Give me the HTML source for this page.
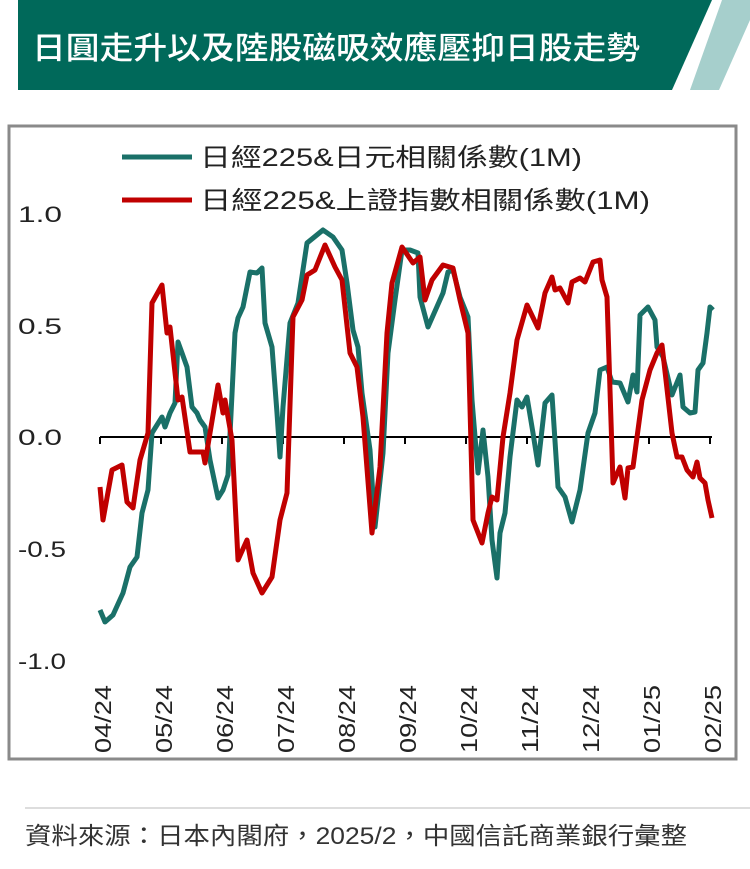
<!DOCTYPE html>
<html><head><meta charset="utf-8"><style>
body{margin:0;width:750px;height:869px;background:#fff;overflow:hidden;font-family:"Liberation Sans","Noto Sans CJK TC",sans-serif;}
</style></head><body>
<svg width="750" height="869" viewBox="0 0 750 869" xmlns="http://www.w3.org/2000/svg" style="position:absolute;left:0;top:0">
<polygon points="18,0 712,0 672,90 18,90" fill="#00695a"/>
<polygon points="722,0 750,0 750,20 719,90 690,90" fill="#a6cfcc"/>
<text x="32" y="59" font-size="31" fill="#fff" font-family="'Noto Sans CJK TC',sans-serif" font-weight="500" textLength="608" lengthAdjust="spacingAndGlyphs">日圓走升以及陸股磁吸效應壓抑日股走勢</text>
<rect x="9" y="126" width="727" height="633" fill="none" stroke="#8a8a8a" stroke-width="3"/>
<g font-family="'Liberation Sans','Noto Sans CJK TC',sans-serif" fill="#222">
<line x1="122" y1="157" x2="192" y2="157" stroke="#1a7068" stroke-width="5"/>
<line x1="122" y1="200" x2="192" y2="200" stroke="#c00000" stroke-width="5"/>
<text x="200" y="166" font-size="25" textLength="382" lengthAdjust="spacingAndGlyphs">日經225&amp;日元相關係數(1M)</text>
<text x="200" y="209" font-size="25" textLength="450" lengthAdjust="spacingAndGlyphs">日經225&amp;上證指數相關係數(1M)</text>
<text x="18" y="222" font-size="22" textLength="44" lengthAdjust="spacingAndGlyphs">1.0</text>
<text x="18" y="334" font-size="22" textLength="44" lengthAdjust="spacingAndGlyphs">0.5</text>
<text x="18" y="445" font-size="22" textLength="44" lengthAdjust="spacingAndGlyphs">0.0</text>
<text x="18" y="557" font-size="22" textLength="48" lengthAdjust="spacingAndGlyphs">-0.5</text>
<text x="18" y="669" font-size="22" textLength="48" lengthAdjust="spacingAndGlyphs">-1.0</text>
</g>
<g stroke="#000" stroke-width="2">
<line x1="100" y1="437" x2="712" y2="437"/>
<line x1="100" y1="437" x2="100" y2="444"/><line x1="161" y1="437" x2="161" y2="444"/><line x1="222" y1="437" x2="222" y2="444"/><line x1="283" y1="437" x2="283" y2="444"/><line x1="344" y1="437" x2="344" y2="444"/><line x1="405" y1="437" x2="405" y2="444"/><line x1="466" y1="437" x2="466" y2="444"/><line x1="527" y1="437" x2="527" y2="444"/><line x1="588" y1="437" x2="588" y2="444"/><line x1="649" y1="437" x2="649" y2="444"/><line x1="710" y1="437" x2="710" y2="444"/>
</g>
<g font-size="23" fill="#222" font-family="'Liberation Sans',sans-serif">
<text transform="translate(111,753) rotate(-90)" textLength="68" lengthAdjust="spacingAndGlyphs">04/24</text>
<text transform="translate(172,753) rotate(-90)" textLength="68" lengthAdjust="spacingAndGlyphs">05/24</text>
<text transform="translate(233,753) rotate(-90)" textLength="68" lengthAdjust="spacingAndGlyphs">06/24</text>
<text transform="translate(294,753) rotate(-90)" textLength="68" lengthAdjust="spacingAndGlyphs">07/24</text>
<text transform="translate(355,753) rotate(-90)" textLength="68" lengthAdjust="spacingAndGlyphs">08/24</text>
<text transform="translate(416,753) rotate(-90)" textLength="68" lengthAdjust="spacingAndGlyphs">09/24</text>
<text transform="translate(477,753) rotate(-90)" textLength="68" lengthAdjust="spacingAndGlyphs">10/24</text>
<text transform="translate(538,753) rotate(-90)" textLength="68" lengthAdjust="spacingAndGlyphs">11/24</text>
<text transform="translate(599,753) rotate(-90)" textLength="68" lengthAdjust="spacingAndGlyphs">12/24</text>
<text transform="translate(660,753) rotate(-90)" textLength="68" lengthAdjust="spacingAndGlyphs">01/25</text>
<text transform="translate(721,753) rotate(-90)" textLength="68" lengthAdjust="spacingAndGlyphs">02/25</text>
</g>
<polyline fill="none" stroke="#1a7068" stroke-width="5" stroke-linejoin="round" points="100,610 105,622 113,615 123,593 130,567 137,557 142,513 148,490 152,433 162,417 165,427 170,413 175,403 178,342 182,353 187,367 192,407 197,413 200,420 205,427 210,460 218,498 223,490 228,475 235,333 238,318 243,307 250,272 257,273 262,268 265,323 272,347 277,413 280,457 283,407 290,323 298,303 307,243 323,230 333,237 342,250 347,283 353,330 358,347 362,393 370,450 375,527 383,453 388,353 395,300 402,250 410,250 418,253 420,297 428,327 443,293 448,272 453,270 460,297 468,317 472,400 478,473 483,430 488,477 492,540 497,578 500,533 505,513 510,457 517,400 522,407 527,397 533,433 538,465 545,403 552,395 558,487 565,497 572,522 580,490 588,433 595,413 600,370 607,367 612,382 620,383 628,402 633,375 637,392 640,315 648,307 655,320 657,347 663,357 672,395 680,375 683,407 690,413 695,412 698,370 703,363 707,333 710,307 713,310"/>
<polyline fill="none" stroke="#c00000" stroke-width="5" stroke-linejoin="round" points="100,487 103,520 112,470 122,465 127,502 133,508 140,460 148,433 152,303 162,285 167,333 170,327 178,400 182,397 190,452 203,452 205,463 218,385 223,413 225,400 232,440 238,560 247,540 253,573 262,593 272,577 280,520 287,493 293,317 302,300 307,275 315,270 325,245 335,267 342,280 350,353 357,367 363,417 372,533 380,467 387,333 392,283 402,247 413,263 420,257 425,300 432,280 443,265 453,268 460,300 468,333 473,520 482,543 488,513 492,497 497,500 503,437 510,393 517,340 527,305 538,328 545,293 552,277 555,290 560,288 568,303 572,282 580,278 585,282 593,262 600,260 602,280 607,297 613,483 620,467 625,498 628,468 633,467 642,400 650,370 657,353 662,345 672,433 677,457 682,457 687,470 693,477 697,462 700,478 705,483 708,500 712,518"/>
<line x1="25" y1="808" x2="750" y2="808" stroke="#ddd" stroke-width="2"/>
<text x="25" y="844" font-size="24" fill="#333" font-family="'Liberation Sans','Noto Sans CJK TC',sans-serif" textLength="662" lengthAdjust="spacingAndGlyphs">資料來源：日本內閣府，2025/2，中國信託商業銀行彙整</text>
</svg>
</body></html>
